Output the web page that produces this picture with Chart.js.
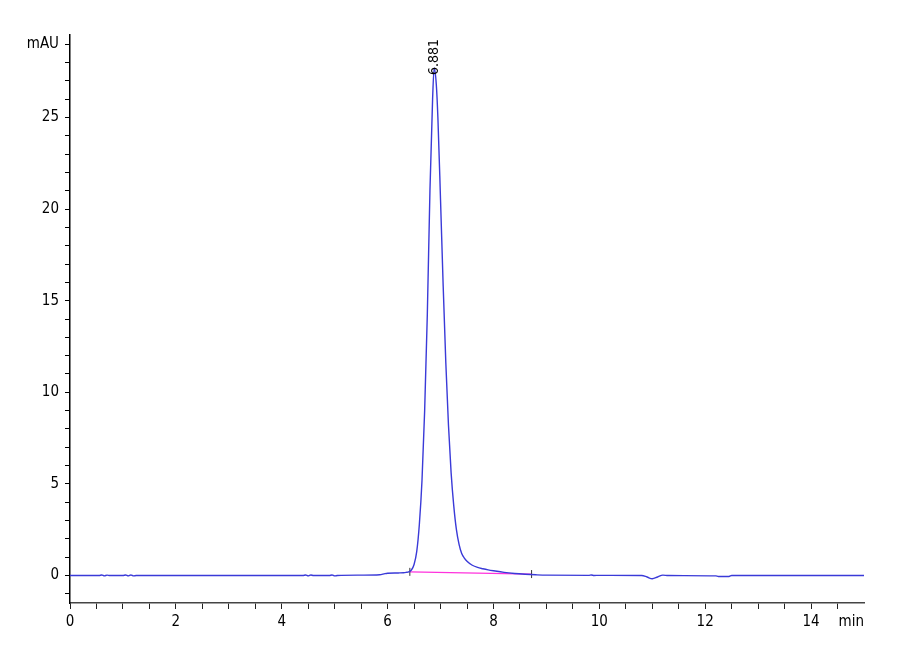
<!DOCTYPE html>
<html lang="en">
<head>
<meta charset="utf-8" />
<title>Chromatogram</title>
<script src="https://cdn.jsdelivr.net/npm/chart.js@4.4.1/dist/chart.umd.min.js"></script>
<style>
	html, body { margin: 0; padding: 0; background: #fff; }
	#wrap { width: 900px; height: 660px; position: relative; }
</style>
</head>
<body>
<div id="wrap"><canvas id="chrom"></canvas></div>
<script>
	// retention time (min) and signal (mAU)
	var timeMin = [0, 0.55, 0.6, 0.65, 0.7, 0.75, 1.0, 1.05, 1.1, 1.15, 1.2, 1.25, 2, 3, 4, 4.4, 4.45, 4.5, 4.55, 4.6,
		4.9, 4.95, 5.0, 5.05, 5.5, 5.85, 5.95, 6.0, 6.2, 6.3, 6.35, 6.4, 6.45, 6.5, 6.55, 6.6, 6.65, 6.7, 6.75, 6.8,
		6.85, 6.88, 6.92, 6.95, 7.0, 7.05, 7.1, 7.15, 7.2, 7.25, 7.3, 7.35, 7.4, 7.45, 7.5, 7.6, 7.7, 7.8, 7.9, 8.0,
		8.2, 8.4, 8.6, 8.8, 9.0, 9.8, 9.85, 9.9, 10.0, 10.8, 10.9, 11.0, 11.1, 11.2, 11.3, 12.2, 12.25, 12.45, 12.5,
		13, 14, 15];
	var signalMAU = [0, 0, 0.03, -0.02, 0.02, 0, 0, 0.03, -0.02, 0.03, -0.02, 0, 0, 0, 0, 0, 0.03, -0.02, 0.03, 0,
		0, 0.03, -0.02, 0, 0.02, 0.04, 0.1, 0.12, 0.14, 0.15, 0.17, 0.2, 0.3, 0.6, 1.3, 2.8, 5.2, 9.0, 14.2, 21.0,
		26.0, 27.7, 26.8, 25.0, 20.5, 15.8, 11.6, 8.2, 5.6, 3.8, 2.5, 1.7, 1.2, 0.95, 0.78, 0.56, 0.44, 0.37, 0.31, 0.26,
		0.17, 0.11, 0.07, 0.04, 0.02, 0.01, 0.03, 0, 0.01, 0, -0.08, -0.18, -0.08, 0.02, 0, -0.02, -0.05, -0.05, 0,
		0, 0, 0];

	// integration baseline and its start / end markers
	var baseTime = [6.42, 8.72];
	var baseLevel = [0.2, 0.08];

	// peak annotation
	var peakTime = [6.881];
	var peakHeight = [27.7];
	var peakLabel = ["6.881"];

	var xTickValues = [];
	for (var i = 0; i <= 30; i++) xTickValues.push(i * 0.5);
	var xLabelled = [0, 2, 4, 6, 8, 10, 12, 14];
	var yTickValues = [];
	for (var j = -1; j <= 29; j++) yTickValues.push(j);
	var yLabelled = [0, 5, 10, 15, 20, 25];

	var fontFam = "'Liberation Sans Narrow', 'Arial Narrow', 'DejaVu Sans Condensed', sans-serif";

	var peakLabels = {
		id: 'peakLabels',
		afterDatasetsDraw: function (chart) {
			var ctx = chart.ctx, xs = chart.scales.x, ys = chart.scales.y;
			ctx.save();
			ctx.fillStyle = '#000';
			ctx.font = '14px ' + fontFam;
			ctx.textAlign = 'left';
			ctx.textBaseline = 'middle';
			peakTime.forEach(function (t, k) {
				var px = xs.getPixelForValue(t), py = ys.getPixelForValue(peakHeight[k]);
				ctx.save();
				ctx.translate(px, py + 7);
				ctx.rotate(-Math.PI / 2);
				ctx.fillText(peakLabel[k], 0, 0);
				ctx.restore();
			});
			// unit on the time axis
			ctx.font = '15px ' + fontFam;
			ctx.textAlign = 'right';
			ctx.textBaseline = 'top';
			ctx.fillText('min', chart.chartArea.right, chart.chartArea.bottom + 12);
			ctx.restore();
		}
	};

	new Chart(document.getElementById('chrom'), {
		type: 'line',
		data: {
			datasets: [{
				data: timeMin.map(function (t, k) { return { x: t, y: signalMAU[k] }; }),
				borderColor: '#3a3ad8',
				borderWidth: 1.4,
				pointRadius: 0,
				cubicInterpolationMode: 'monotone',
				order: 1
			}, {
				data: baseTime.map(function (t, k) { return { x: t, y: baseLevel[k] }; }),
				borderColor: '#ff33dd',
				borderWidth: 1.3,
				pointStyle: 'line',
				rotation: 90,
				pointRadius: 4,
				pointBorderColor: '#333',
				pointBorderWidth: 1,
				order: 2
			}]
		},
		options: {
			responsive: true,
			maintainAspectRatio: false,
			animation: false,
			layout: { padding: { left: 0, right: 36, top: 35, bottom: 0 } },
			plugins: { legend: { display: false }, tooltip: { enabled: false } },
			scales: {
				x: {
					type: 'linear',
					min: 0,
					max: 15,
					afterBuildTicks: function (s) { s.ticks = xTickValues.map(function (v) { return { value: v }; }); },
					afterFit: function (s) { s.height = 57; },
					border: { color: '#444', width: 1.5 },
					grid: {
						drawOnChartArea: false,
						tickLength: 6,
						tickColor: function (c) { return c.tick && c.tick.value === 15 ? 'rgba(0,0,0,0)' : '#222'; }
					},
					ticks: {
						autoSkip: false,
						maxRotation: 0,
						padding: 4,
						color: '#000',
						font: { family: fontFam, size: 15 },
						callback: function (v) { return xLabelled.indexOf(v) >= 0 ? String(v) : ''; }
					}
				},
				y: {
					type: 'linear',
					min: -1.5,
					max: 29.5,
					afterBuildTicks: function (s) { s.ticks = yTickValues.map(function (v) { return { value: v }; }); },
					afterFit: function (s) { s.width = 70; },
					border: { color: '#000', width: 1.5 },
					grid: { drawOnChartArea: false, tickLength: 5, tickColor: '#000' },
					ticks: {
						autoSkip: false,
						padding: 6,
						color: '#000',
						font: { family: fontFam, size: 15 },
						callback: function (v) {
							if (v === 29) return 'mAU';
							return yLabelled.indexOf(v) >= 0 ? String(v) : '';
						}
					}
				}
			}
		},
		plugins: [peakLabels]
	});
</script>
</body>
</html>
